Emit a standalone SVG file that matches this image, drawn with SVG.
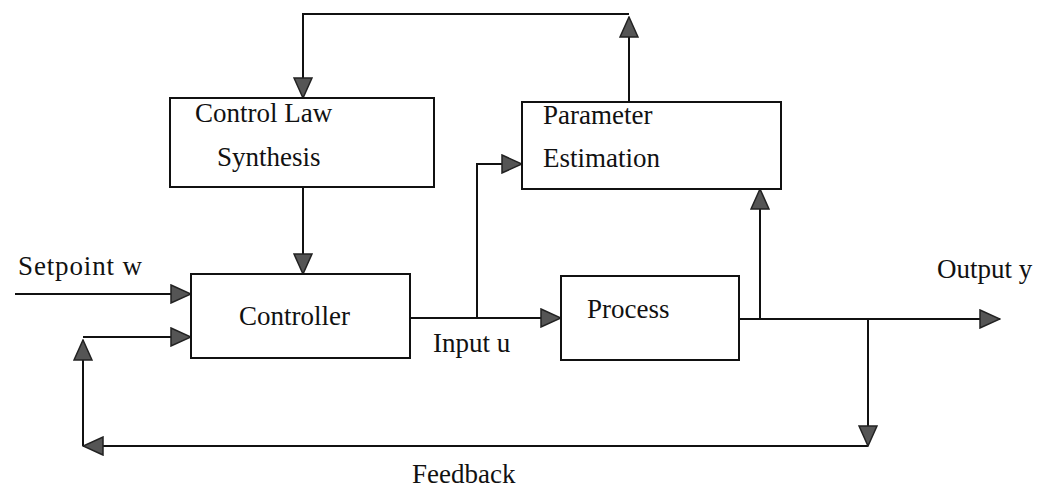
<svg xmlns="http://www.w3.org/2000/svg" width="1042" height="493" viewBox="0 0 1042 493">
  <style>
    .box { fill: #ffffff; stroke: #111111; stroke-width: 2; }
    .wire { fill: none; stroke: #111111; stroke-width: 2; }
    .arr { marker-end: url(#head); }
    .label { font-family: "Liberation Serif", "Times New Roman", serif; font-size: 27px; fill: #111111; }
  </style>
  <defs>
    <marker id="head" markerUnits="userSpaceOnUse" markerWidth="22" markerHeight="20" viewBox="0 0 22 20" refX="21" refY="10" orient="auto">
      <path d="M1,1 L21,10 L1,19 Z" fill="#555555" stroke="#222222" stroke-width="1.5" stroke-linejoin="miter"/>
    </marker>
  </defs>

  <rect width="1042" height="493" fill="#ffffff"/>

  <!-- signal lines -->
  <g id="connectors">
    <!-- setpoint into controller -->
    <path class="wire arr" d="M15,294 H191"/>
    <!-- feedback return into controller -->
    <path class="wire arr" d="M83,337 H191"/>
    <path class="wire arr" d="M83,446 V340"/>
    <path class="wire arr" d="M868,446 H83"/>
    <path class="wire arr" d="M868,319 V446"/>
    <!-- control law synthesis to controller -->
    <path class="wire arr" d="M303,187 V274"/>
    <!-- controller output u to process -->
    <path class="wire arr" d="M410,318 H561"/>
    <!-- u tapped to parameter estimation -->
    <path class="wire arr" d="M477,318 V164 H522"/>
    <!-- process output y -->
    <path class="wire arr" d="M739,319 H1000"/>
    <!-- y tapped to parameter estimation -->
    <path class="wire arr" d="M760,319 V189"/>
    <!-- estimates up and over to control law synthesis -->
    <path class="wire arr" d="M629,102 V17"/>
    <path class="wire arr" d="M629,14 H303 V98"/>
  </g>

  <g id="control-law-synthesis">
    <rect class="box" x="170" y="98" width="264" height="89"/>
    <text class="label" x="195" y="122">Control Law</text>
    <text class="label" x="217" y="166">Synthesis</text>
  </g>

  <g id="parameter-estimation">
    <rect class="box" x="522" y="102" width="259" height="87"/>
    <text class="label" x="543" y="124">Parameter</text>
    <text class="label" x="543" y="167">Estimation</text>
  </g>

  <g id="controller">
    <rect class="box" x="191" y="274" width="219" height="84"/>
    <text class="label" x="239" y="325">Controller</text>
  </g>

  <g id="process">
    <rect class="box" x="561" y="276" width="178" height="84"/>
    <text class="label" x="587" y="318">Process</text>
  </g>

  <g id="labels">
    <text class="label" x="18" y="275" textLength="124">Setpoint w</text>
    <text class="label" x="433" y="352">Input u</text>
    <text class="label" x="937" y="278">Output y</text>
    <text class="label" x="412" y="483">Feedback</text>
  </g>
</svg>
